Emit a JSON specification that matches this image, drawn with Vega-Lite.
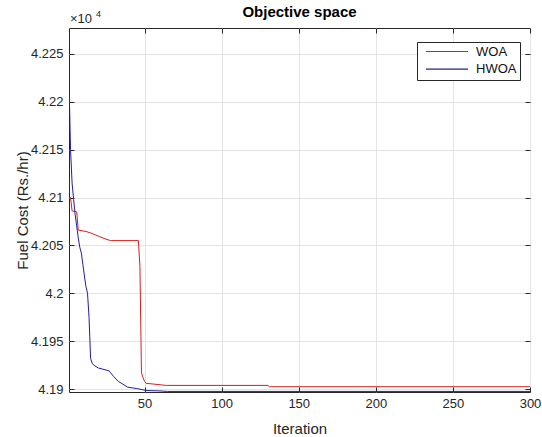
{
  "$schema": "https://vega.github.io/schema/vega-lite/v6.json",
  "width": 461,
  "height": 364,
  "autosize": {"type": "none"},
  "padding": {"left": 69, "top": 28, "right": 12, "bottom": 45},
  "background": "white",
  "title": {"text": "Objective space", "fontSize": 15, "fontWeight": "bold", "font": "Liberation Sans", "color": "#000000", "anchor": "middle", "frame": "group", "baseline": "alphabetic", "offset": -22},
  "config": {
    "view": {"stroke": "#262626", "strokeWidth": 1},
    "axis": {"labelFont": "Liberation Sans", "titleFont": "Liberation Sans", "labelColor": "#262626", "titleColor": "#262626", "tickColor": "#262626", "gridColor": "#e3e3e3", "domain": false, "tickSize": -5, "labelFontSize": 13, "titleFontSize": 15, "titleFontWeight": "normal"}
  },
  "layer": [
    {
      "data": {"values": [
        {"iter": 1, "cost": 42100, "algo": "WOA"},
        {"iter": 2, "cost": 42100, "algo": "WOA"},
        {"iter": 3, "cost": 42086, "algo": "WOA"},
        {"iter": 6, "cost": 42085, "algo": "WOA"},
        {"iter": 7, "cost": 42066, "algo": "WOA"},
        {"iter": 12, "cost": 42064.5, "algo": "WOA"},
        {"iter": 15, "cost": 42063, "algo": "WOA"},
        {"iter": 18, "cost": 42061, "algo": "WOA"},
        {"iter": 21, "cost": 42059, "algo": "WOA"},
        {"iter": 25, "cost": 42056.5, "algo": "WOA"},
        {"iter": 28, "cost": 42055, "algo": "WOA"},
        {"iter": 46, "cost": 42055, "algo": "WOA"},
        {"iter": 47, "cost": 42028, "algo": "WOA"},
        {"iter": 48, "cost": 41917, "algo": "WOA"},
        {"iter": 49, "cost": 41912, "algo": "WOA"},
        {"iter": 50, "cost": 41908, "algo": "WOA"},
        {"iter": 51, "cost": 41906, "algo": "WOA"},
        {"iter": 64, "cost": 41903.8, "algo": "WOA"},
        {"iter": 130, "cost": 41903.8, "algo": "WOA"},
        {"iter": 131, "cost": 41902.4, "algo": "WOA"},
        {"iter": 300, "cost": 41902.4, "algo": "WOA"},
        {"iter": 1, "cost": 42221, "algo": "HWOA"},
        {"iter": 2, "cost": 42150, "algo": "HWOA"},
        {"iter": 3, "cost": 42115, "algo": "HWOA"},
        {"iter": 4, "cost": 42098, "algo": "HWOA"},
        {"iter": 5, "cost": 42082, "algo": "HWOA"},
        {"iter": 6, "cost": 42070, "algo": "HWOA"},
        {"iter": 7, "cost": 42058, "algo": "HWOA"},
        {"iter": 8, "cost": 42048, "algo": "HWOA"},
        {"iter": 9, "cost": 42042, "algo": "HWOA"},
        {"iter": 10, "cost": 42030, "algo": "HWOA"},
        {"iter": 11, "cost": 42018, "algo": "HWOA"},
        {"iter": 12, "cost": 42007, "algo": "HWOA"},
        {"iter": 13, "cost": 42000, "algo": "HWOA"},
        {"iter": 14, "cost": 41975, "algo": "HWOA"},
        {"iter": 15, "cost": 41932, "algo": "HWOA"},
        {"iter": 16, "cost": 41927, "algo": "HWOA"},
        {"iter": 17, "cost": 41925, "algo": "HWOA"},
        {"iter": 20, "cost": 41922, "algo": "HWOA"},
        {"iter": 27, "cost": 41919, "algo": "HWOA"},
        {"iter": 28, "cost": 41917, "algo": "HWOA"},
        {"iter": 30, "cost": 41913, "algo": "HWOA"},
        {"iter": 33, "cost": 41908, "algo": "HWOA"},
        {"iter": 36, "cost": 41905, "algo": "HWOA"},
        {"iter": 39, "cost": 41902, "algo": "HWOA"},
        {"iter": 45, "cost": 41900.5, "algo": "HWOA"},
        {"iter": 51, "cost": 41898.5, "algo": "HWOA"},
        {"iter": 60, "cost": 41898, "algo": "HWOA"},
        {"iter": 65, "cost": 41897.5, "algo": "HWOA"},
        {"iter": 300, "cost": 41897.5, "algo": "HWOA"}
      ]},
      "mark": {"type": "line", "strokeWidth": 1, "clip": true},
      "encoding": {
        "x": {"field": "iter", "type": "quantitative", "scale": {"domain": [1, 300], "nice": false, "zero": false},
          "axis": {"orient": "bottom", "values": [50, 100, 150, 200, 250, 300], "grid": true, "labelPadding": 10, "labelFlush": false, "title": "Iteration", "titleY": 41, "titleBaseline": "alphabetic"}},
        "y": {"field": "cost", "type": "quantitative", "scale": {"domain": [41896.9, 42277], "nice": false, "zero": false},
          "axis": {"orient": "left", "values": [41900, 41950, 42000, 42050, 42100, 42150, 42200, 42250], "grid": true, "labelPadding": 11, "labelExpr": "format(datum.value/10000, '.4~f')", "title": "Fuel Cost (Rs./hr)", "titleX": -42, "titleBaseline": "alphabetic"}},
        "color": {"field": "algo", "type": "nominal", "sort": ["WOA", "HWOA"],
          "scale": {"domain": ["WOA", "HWOA"], "range": ["#d42020", "#1f1fa0"]},
          "legend": {"title": null, "orient": "none", "legendX": 348, "legendY": 14, "symbolType": "stroke", "symbolSize": 1764, "symbolStrokeWidth": 1.2, "clipHeight": 13, "rowPadding": 3.7, "padding": 3, "symbolOffset": 5, "labelOffset": 7, "labelFont": "Liberation Sans", "labelFontSize": 13, "labelColor": "#111111", "strokeColor": "#262626", "fillColor": "white", "labelExpr": "datum.label + '    '"}}
      }
    },
    {
      "data": {"values": [{"iter": 1, "cost": 41900}]},
      "mark": {"type": "point", "opacity": 0},
      "encoding": {
        "x": {"field": "iter", "type": "quantitative", "axis": {"orient": "top", "values": [50, 100, 150, 200, 250, 300], "labels": false, "grid": false, "title": null}},
        "y": {"field": "cost", "type": "quantitative", "axis": {"orient": "right", "values": [41900, 41950, 42000, 42050, 42100, 42150, 42200, 42250], "labels": false, "grid": false, "title": null}}
      }
    },
    {
      "data": {"values": [{"label": "×10"}]},
      "mark": {"type": "text", "align": "left", "baseline": "alphabetic", "dx": 1, "dy": -5, "fontSize": 13, "font": "Liberation Sans", "color": "#262626"},
      "encoding": {
        "x": {"datum": 1, "type": "quantitative", "axis": null},
        "y": {"datum": 42277, "type": "quantitative", "axis": null},
        "text": {"field": "label"}
      }
    },
    {
      "data": {"values": [{"label": "4"}]},
      "mark": {"type": "text", "align": "left", "baseline": "alphabetic", "dx": 27, "dy": -11, "fontSize": 9, "font": "Liberation Sans", "color": "#262626"},
      "encoding": {
        "x": {"datum": 1, "type": "quantitative", "axis": null},
        "y": {"datum": 42277, "type": "quantitative", "axis": null},
        "text": {"field": "label"}
      }
    }
  ],
  "resolve": {"axis": {"x": "independent", "y": "independent"}}
}
